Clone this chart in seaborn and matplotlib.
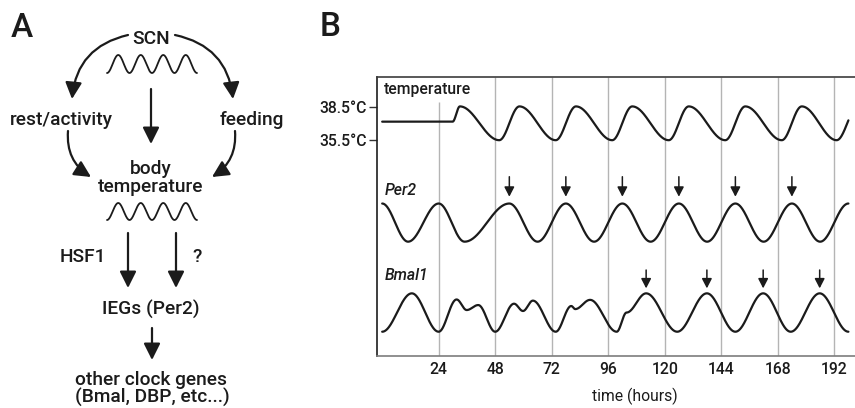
import numpy as np
import pandas as pd
import matplotlib
matplotlib.use("Agg")
import matplotlib.pyplot as plt
from matplotlib.patches import FancyArrowPatch
import seaborn as sns

# ---------------- data ----------------
# body temperature turning points (hour, °C)
temp_hours = [0, 29.9, 33.0, 49.7, 58.3, 73.7, 82.3, 97.7, 106.2, 121.7,
              130.2, 145.7, 154.2, 169.7, 178.2, 193.0, 202.0]
temp_celsius = [37.2, 37.2, 38.6, 35.5, 38.6, 35.5, 38.6, 35.5, 38.6, 35.5,
                38.6, 35.5, 38.6, 35.5, 38.6, 35.5, 38.6]

# Per2 expression turning points (hour, relative level 0..1)
per2_hours = [0, 11, 24, 35, 54, 66, 78, 90, 102, 114, 126, 138, 150, 162,
              174, 186, 198]
per2_level = [1, 0, 1, 0, 1, 0, 1, 0, 1, 0, 1, 0, 1, 0, 1, 0, 1]

# Bmal1 expression turning points (hour, relative level 0..1)
bmal1_hours = [0, 12.6, 24, 31.6, 35.9, 40.8, 48, 56.0, 59.8, 64.0, 73.7,
               80.3, 82.0, 88.3, 99.6, 103.8, 112.1, 125.3, 137.9, 150.0,
               161.8, 173.5, 185.8, 198]
bmal1_level = [0, 1, 0, 0.84, 0.565, 0.695, 0, 0.73, 0.54, 0.81, 0,
               0.67, 0.59, 0.83, 0, 0.5, 1, 0, 1, 0, 1, 0, 1, 0]

per2_marked_peaks = [54, 78, 102, 126, 150, 174]
bmal1_marked_peaks = [112.1, 137.9, 161.8, 185.8]

time_ticks = [24, 48, 72, 96, 120, 144, 168, 192]
temp_ticks = [35.5, 38.5]
trace_end = 198

# ---------------- style ----------------
sns.set_theme(style="white")
plt.rcParams["font.family"] = ["Roboto", "DejaVu Sans"]
plt.rcParams["font.weight"] = "medium"
INK = "#1b1b1b"

W, H = 855, 408
fig = plt.figure(figsize=(W / 100, H / 100), dpi=100)


def smooth_through(kx, ky, x):
    """Half-cosine easing between consecutive turning points."""
    kx = np.asarray(kx, float)
    ky = np.asarray(ky, float)
    i = np.clip(np.searchsorted(kx, x, side="right") - 1, 0, len(kx) - 2)
    u = np.clip((x - kx[i]) / (kx[i + 1] - kx[i]), 0, 1)
    return ky[i] + (ky[i + 1] - ky[i]) * (1 - np.cos(np.pi * u)) / 2


# ---------------- panel A (schematic, pixel coordinates) ----------------
axa = fig.add_axes([0, 0, 1, 1])
axa.set_xlim(0, W)
axa.set_ylim(H, 0)
axa.axis("off")

FA = 13.8
txt = dict(ha="center", va="baseline", fontsize=FA, color=INK)
axa.text(11, 37, "A", ha="left", va="baseline", fontsize=24, color=INK)
axa.text(320, 36, "B", ha="left", va="baseline", fontsize=24, color=INK)
axa.text(151, 44, "SCN", **txt)
axa.text(61, 125, "rest/activity", **txt)
axa.text(252, 125, "feeding", **txt)
axa.text(151, 174, "body", **txt)
axa.text(151, 192, "temperature", **txt)
axa.text(83, 262, "HSF1", **txt)
axa.text(197, 262, "?", **txt)
axa.text(151, 315, "IEGs (Per2)", **txt)
axa.text(151, 385, "other clock genes", **txt)
axa.text(152, 403, "(Bmal, DBP, etc...)", **txt)

# small oscillation glyphs
wave_x = np.linspace(0, 1, 9)
wave_y = [1, 0, 1, 0, 1, 0, 1, 0, 1]
xs = np.linspace(0, 1, 300)
for x0, y0, amp in [(107, 55, 18), (107, 203, 17)]:
    ys = smooth_through(wave_x, wave_y, xs)
    axa.plot(x0 + 90 * xs, y0 + amp * ys, color=INK, lw=1.3)

head = "-|>,head_length=1.0,head_width=0.5"
straight = [((151, 89), (151, 144)), ((128, 233), (128, 288)),
            ((176, 233), (176, 288)), ((152, 328), (152, 360))]
for a, b in straight:
    axa.add_patch(FancyArrowPatch(a, b, arrowstyle=head, mutation_scale=10,
                                  lw=1.6, color=INK, shrinkA=0, shrinkB=0))
curved = [((128, 35), (72, 99), 0.36), ((175, 35), (233, 99), -0.36),
          ((68, 131), (91, 177), 0.3), ((235, 131), (212, 177), -0.3)]
for a, b, r in curved:
    axa.add_patch(FancyArrowPatch(a, b, arrowstyle=head, mutation_scale=10,
                                  connectionstyle=f"arc3,rad={r}",
                                  lw=1.6, color=INK, shrinkA=0, shrinkB=0))

# ---------------- panel B (time courses) ----------------
left, right, top, bottom = 377, 855, 77.3, 355.7
axb = fig.add_axes([left / W, (H - bottom) / H, (right - left) / W,
                    (bottom - top) / H])
axb.set_facecolor("none")
y_lo, y_hi = 15.73, 41.27
axb.set_xlim(-2.2, 200.8)
axb.set_ylim(y_lo, y_hi)

# vertical band layout for the expression traces (in the temperature axis units)
per2_base, per2_span = 26.19, 3.50
bmal1_base, bmal1_span = 17.93, 3.52

hours = np.linspace(0, trace_end, 2000)
frames = [
    pd.DataFrame({"hour": hours, "y": smooth_through(temp_hours, temp_celsius, hours),
                  "track": "temperature"}),
    pd.DataFrame({"hour": hours,
                  "y": per2_base + per2_span * smooth_through(per2_hours, per2_level, hours),
                  "track": "Per2"}),
    pd.DataFrame({"hour": hours,
                  "y": bmal1_base + bmal1_span * smooth_through(bmal1_hours, bmal1_level, hours),
                  "track": "Bmal1"}),
]
df = pd.concat(frames, ignore_index=True)

# grid lines at day boundaries; the first one stops below the track label
grid_tops = [39.03 if h < 30 else y_hi for h in time_ticks]
axb.vlines(time_ticks, y_lo, grid_tops, color="#b4b4b4", lw=1.0, zorder=1)

sns.lineplot(data=df, x="hour", y="y", units="track", estimator=None,
             color=INK, lw=1.6, sort=False, ax=axb, zorder=3, legend=False)

arrow_kw = dict(arrowstyle="-|>,head_length=0.58,head_width=0.3",
                mutation_scale=10, lw=1.1, color=INK, shrinkA=0)
for h in per2_marked_peaks:
    yp = per2_base + per2_span * smooth_through(per2_hours, per2_level, np.array([h]))[0]
    axb.annotate("", xy=(h, yp), xytext=(0, 19.3), textcoords="offset points",
                 arrowprops=dict(shrinkB=4.9, **arrow_kw))
for h in bmal1_marked_peaks:
    yp = bmal1_base + bmal1_span * smooth_through(bmal1_hours, bmal1_level, np.array([h]))[0]
    axb.annotate("", xy=(h, yp), xytext=(0, 16.8), textcoords="offset points",
                 arrowprops=dict(shrinkB=3.6, **arrow_kw))

FB = 11.3
axb.text(0.8, 40.17, "temperature", ha="left", va="center", fontsize=FB, color=INK)
axb.text(1.2, 30.93, "Per2", ha="left", va="center", fontsize=FB, color=INK,
         style="italic")
axb.text(1.2, 23.13, "Bmal1", ha="left", va="center", fontsize=FB, color=INK,
         style="italic")

axb.set_yticks(temp_ticks)
axb.set_yticklabels([f"{t:.1f}°C" for t in temp_ticks])
axb.set_xticks(time_ticks)
axb.set_xticklabels([str(t) for t in time_ticks])
axb.tick_params(axis="y", direction="out", length=6, width=1.0, color="#333333",
                pad=1.2, labelsize=FB, labelcolor=INK, left=True)
axb.tick_params(axis="x", length=0, pad=4.3, labelsize=FB, labelcolor=INK)
axb.set_xlabel("time (hours)", fontsize=FB, color=INK)
axb.xaxis.set_label_coords((635 - left) / (right - left), -0.115)
axb.set_ylabel("")

axb.spines["right"].set_visible(False)
axb.spines["top"].set_color("#3c3c3c")
axb.spines["left"].set_color("#1e1e1e")
axb.spines["bottom"].set_color("#7d7d7d")
for s in ["top", "left", "bottom"]:
    axb.spines[s].set_linewidth(1.2)

fig.savefig("out.png", dpi=100)
